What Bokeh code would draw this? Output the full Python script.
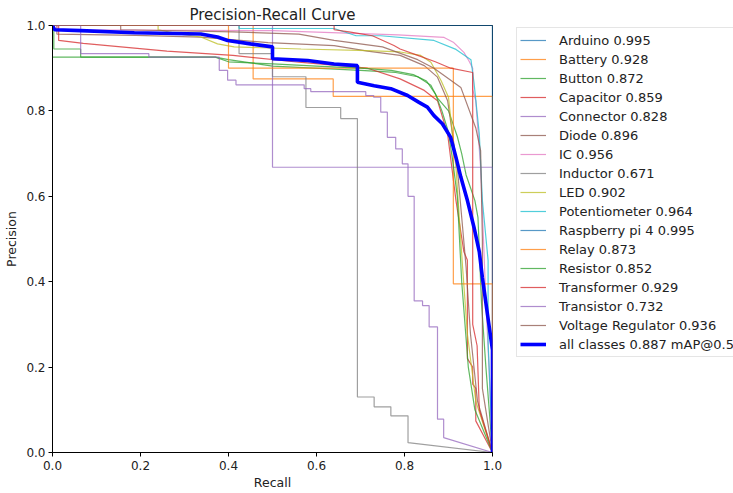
from bokeh.plotting import figure
from bokeh.layouts import row
from bokeh.models import Legend, LegendItem, FixedTicker, PrintfTickFormatter, Range1d
from bokeh.embed import file_html
from bokeh.resources import INLINE

class_names = ["Arduino", "Battery", "Button", "Capacitor", "Connector", "Diode", "IC",
               "Inductor", "LED", "Potentiometer", "Raspberry pi 4", "Relay", "Resistor",
               "Transformer", "Transistor", "Voltage Regulator"]
class_ap = ["0.995", "0.928", "0.872", "0.859", "0.828", "0.896", "0.956", "0.671", "0.902",
            "0.964", "0.995", "0.873", "0.852", "0.929", "0.732", "0.936"]
tab10 = ["#1f77b4", "#ff7f0e", "#2ca02c", "#d62728", "#9467bd",
         "#8c564b", "#e377c2", "#7f7f7f", "#bcbd22", "#17becf"]

arduino_r = [0, 1.0, 1.0]
arduino_p = [1, 1, 0]

battery_r = [0, 0.456, 0.456, 0.638, 0.638, 1.0, 1.0]
battery_p = [1, 1, 0.875, 0.875, 0.834, 0.834, 0]

button_r = [0, 0.003, 0.003, 0.064, 0.064, 0.37, 0.40, 0.50, 0.70, 0.78, 0.83, 0.86, 0.875,
            0.90, 0.92, 0.93, 0.94, 0.95, 0.96, 0.967, 0.975, 0.985, 1.0]
button_p = [1, 1, 0.945, 0.945, 0.926, 0.926, 0.92, 0.905, 0.895, 0.89, 0.88, 0.86, 0.83,
            0.80, 0.74, 0.70, 0.65, 0.62, 0.59, 0.55, 0.35, 0.2, 0]

capacitor_r = [0, 0.014, 0.014, 0.07, 0.26, 0.41, 0.56, 0.716, 0.79, 0.845, 0.875, 0.898,
               0.917, 0.935, 0.943, 0.943, 0.955, 0.955, 0.962, 0.962, 1.0]
capacitor_p = [1, 1, 0.965, 0.958, 0.94, 0.93, 0.914, 0.90, 0.875, 0.848, 0.824, 0.746,
               0.59, 0.47, 0.45, 0.22, 0.2, 0.16, 0.15, 0.074, 0]

connector_r = [0, 0.5, 0.5, 1.0, 1.0]
connector_p = [1, 1, 0.668, 0.668, 0]

diode_r = [0, 0.01, 0.01, 0.19, 0.337, 0.49, 0.64, 0.716, 0.79, 0.845, 0.875, 0.898, 0.92,
           0.94, 0.95, 0.966, 1.0]
diode_p = [1, 1, 0.98, 0.977, 0.973, 0.96, 0.953, 0.94, 0.93, 0.906, 0.879, 0.824, 0.668,
           0.434, 0.277, 0.12, 0]

ic_r = [0, 0.01, 0.01, 0.5, 0.785, 0.89, 0.912, 0.935, 0.946, 0.955, 0.955, 0.962, 0.973,
        0.985, 0.992, 1.0]
ic_p = [1, 1, 0.99, 0.988, 0.978, 0.972, 0.96, 0.937, 0.918, 0.9, 0.85, 0.824, 0.668,
        0.355, 0.2, 0]

inductor_r = [0, 0.424, 0.424, 0.5, 0.5, 0.576, 0.576, 0.655, 0.655, 0.693, 0.693, 0.731,
              0.731, 0.769, 0.769, 0.808, 0.808, 1.0]
inductor_p = [1, 1, 0.934, 0.934, 0.88, 0.88, 0.808, 0.808, 0.782, 0.782, 0.13, 0.13,
              0.107, 0.107, 0.086, 0.086, 0.023, 0]

led_r = [0, 0.24, 0.24, 0.29, 0.337, 0.375, 0.413, 0.565, 0.716, 0.79, 0.837, 0.86, 0.883,
         0.90, 0.917, 0.932, 0.943, 0.962, 1.0]
led_p = [1, 1, 0.99, 0.98, 0.973, 0.957, 0.95, 0.945, 0.941, 0.938, 0.93, 0.914, 0.871,
         0.832, 0.668, 0.434, 0.277, 0.12, 0]

potentiometer_r = [0, 0.424, 0.424, 0.64, 0.69, 0.746, 0.867, 0.917, 0.951, 0.958, 0.97,
                   0.977, 0.99, 0.99, 1.0]
potentiometer_p = [1, 1, 0.993, 0.993, 0.976, 0.976, 0.965, 0.944, 0.92, 0.866, 0.746,
                   0.59, 0.45, 0.26, 0]

raspberry_r = [0, 1.0, 1.0]
raspberry_p = [1, 1, 0]

relay_r = [0, 0.4, 0.4, 0.911, 0.911, 1.0, 1.0]
relay_p = [1, 1, 0.9, 0.9, 0.395, 0.395, 0]

resistor_r = [0, 0.37, 0.40, 0.50, 0.60, 0.70, 0.77, 0.82, 0.85, 0.87, 0.885, 0.90, 0.91,
              0.92, 0.93, 0.945, 0.96, 1.0]
resistor_p = [0.926, 0.926, 0.915, 0.91, 0.905, 0.9, 0.895, 0.885, 0.87, 0.84, 0.80, 0.75,
              0.68, 0.6, 0.4, 0.2, 0.1, 0]

transformer_r = [0, 0.64, 0.64, 0.674, 0.727, 0.776, 0.79, 0.83, 0.87, 0.905, 0.955, 0.955,
                 0.965, 0.97, 1.0]
transformer_p = [1, 1, 0.99, 0.985, 0.976, 0.953, 0.945, 0.93, 0.915, 0.9, 0.89, 0.3,
                 0.25, 0.1, 0]

transistor_r = [0, 0.064, 0.064, 0.219, 0.219, 0.379, 0.379, 0.398, 0.398, 0.417, 0.417,
                0.572, 0.572, 0.587, 0.587, 0.712, 0.712, 0.73, 0.73, 0.746, 0.746, 0.761,
                0.761, 0.78, 0.78, 0.795, 0.795, 0.808, 0.808, 0.822, 0.822, 0.841, 0.841,
                0.856, 0.856, 0.875, 0.875, 0.889, 0.889, 1.0]
transistor_p = [1, 1, 0.934, 0.934, 0.926, 0.926, 0.895, 0.895, 0.872, 0.872, 0.861,
                0.861, 0.852, 0.852, 0.845, 0.845, 0.836, 0.836, 0.832, 0.832, 0.797, 0.797,
                0.738, 0.738, 0.711, 0.711, 0.676, 0.676, 0.60, 0.60, 0.355, 0.355, 0.344,
                0.344, 0.294, 0.294, 0.078, 0.078, 0.035, 0]

voltage_r = [0, 0.155, 0.155, 0.41, 0.56, 0.64, 0.75, 0.83, 0.867, 0.928, 0.962, 0.973,
             0.977, 0.977, 1.0]
voltage_p = [1, 1, 0.99, 0.985, 0.98, 0.965, 0.95, 0.92, 0.90, 0.855, 0.76, 0.707, 0.5,
             0.15, 0]

all_r = [0, 0.005, 0.064, 0.186, 0.337, 0.375, 0.398, 0.45, 0.5, 0.5, 0.58, 0.61, 0.64,
         0.693, 0.693, 0.731, 0.769, 0.807, 0.833, 0.852, 0.867, 0.886, 0.905, 0.917, 0.928,
         0.943, 0.958, 0.97, 0.977, 0.989, 1.0, 1.0]
all_p = [1.0, 0.99, 0.988, 0.983, 0.98, 0.973, 0.965, 0.957, 0.95, 0.922, 0.918, 0.914,
         0.91, 0.906, 0.867, 0.859, 0.852, 0.836, 0.82, 0.809, 0.789, 0.77, 0.738, 0.691,
         0.645, 0.59, 0.527, 0.47, 0.41, 0.32, 0.24, 0]
all_label = "all classes 0.887 mAP@0.5"

tick_vals = [0.0, 0.2, 0.4, 0.6, 0.8, 1.0]

curves = [(arduino_r, arduino_p), (battery_r, battery_p), (button_r, button_p),
          (capacitor_r, capacitor_p), (connector_r, connector_p), (diode_r, diode_p),
          (ic_r, ic_p), (inductor_r, inductor_p), (led_r, led_p),
          (potentiometer_r, potentiometer_p), (raspberry_r, raspberry_p),
          (relay_r, relay_p), (resistor_r, resistor_p), (transformer_r, transformer_p),
          (transistor_r, transistor_p), (voltage_r, voltage_p)]

FONT = "DejaVu Sans"
LINE_ALPHA = 0.75
LINE_W = 1.2
ALL_W = 3.6

# main chart
p = figure(width=512, height=493, output_backend="svg", toolbar_location=None,
           x_range=Range1d(0, 1), y_range=Range1d(0, 1),
           min_border_left=52, min_border_right=20, min_border_top=25,
           min_border_bottom=41, title="Precision-Recall Curve")
p.frame_align = False
p.grid.visible = False
p.outline_line_color = "black"
p.outline_line_width = 1
p.background_fill_color = "white"
p.border_fill_color = "white"

p.title.align = "center"
p.title.text_font = FONT
p.title.text_font_size = "15px"
p.title.text_font_style = "normal"
p.title.text_color = "#222222"
p.title.standoff = 3
p.title.offset = 0

for ax in (p.xaxis[0], p.yaxis[0]):
    ax.ticker = FixedTicker(ticks=tick_vals)
    ax.formatter = PrintfTickFormatter(format="%.1f")
    ax.major_tick_out = 4
    ax.major_tick_in = 0
    ax.minor_tick_out = 0
    ax.minor_tick_in = 0
    ax.major_label_text_font = FONT
    ax.major_label_text_font_size = "12px"
    ax.major_label_text_color = "#222222"
    ax.axis_label_text_font = FONT
    ax.axis_label_text_font_size = "12.5px"
    ax.axis_label_text_font_style = "normal"
    ax.axis_label_text_color = "#222222"
    ax.axis_line_color = "black"
    ax.major_tick_line_color = "black"
p.xaxis.axis_label = "Recall"
p.yaxis.axis_label = "Precision"
p.xaxis.major_label_standoff = 4
p.xaxis.axis_label_standoff = 2
p.yaxis.major_label_standoff = 3
p.yaxis.axis_label_standoff = 4

for i, (r, pr) in enumerate(curves):
    p.line(r, pr, line_color=tab10[i % 10], line_width=LINE_W, line_alpha=LINE_ALPHA)
p.line(all_r, all_p, line_color="#0000ff", line_width=ALL_W)

# legend panel: a separate figure whose view range lies away from the data, so its
# proxy lines stay hidden and only the legend (not clipped to the chart frame) shows
q = figure(width=221, height=493, output_backend="svg", toolbar_location=None,
           x_range=Range1d(5, 6), y_range=Range1d(5, 6),
           x_axis_location=None, y_axis_location=None,
           min_border=0, min_border_left=0, min_border_right=0,
           min_border_top=0, min_border_bottom=0)
q.frame_align = False
q.grid.visible = False
q.outline_line_color = None
q.background_fill_color = "white"
q.border_fill_color = "white"

items = []
for i, (r, pr) in enumerate(curves):
    g = q.line(r, pr, line_color=tab10[i % 10], line_width=LINE_W, line_alpha=LINE_ALPHA)
    items.append(LegendItem(label=f"{class_names[i]} {class_ap[i]}", renderers=[g]))
g_all = q.line(all_r, all_p, line_color="#0000ff", line_width=ALL_W)
items.append(LegendItem(label=all_label, renderers=[g_all]))

legend = Legend(items=items, location=(4, 136), label_text_font=FONT,
                label_text_font_size="13px", label_text_color="#222222",
                label_height=18, glyph_height=18, glyph_width=26, spacing=1,
                padding=3, margin=0, label_standoff=13, label_width=190,
                border_line_color="#cccccc", border_line_width=1,
                background_fill_color="white", background_fill_alpha=0.85)
q.add_layout(legend, "center")

layout = row(p, q, spacing=0)
open("out.html", "w").write(file_html(layout, INLINE))
